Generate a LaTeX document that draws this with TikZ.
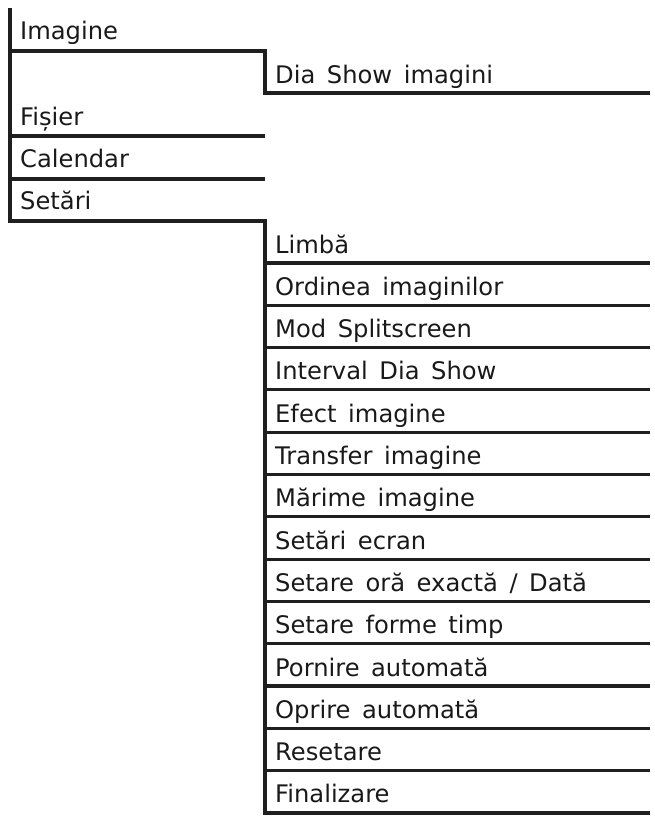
\documentclass[tikz,border=0pt]{standalone}
\usepackage{fontspec}
\setmainfont[WordSpace=1.5]{DejaVu Sans}
\begin{document}
\begin{tikzpicture}[x=1pt,y=-1pt,
  menuline/.style={draw=black!88, line width=3.1pt, line join=miter},
  lbl/.style={anchor=base west, inner sep=0pt, text=black!90, font=\fontsize{24.2}{24}\selectfont}]
\useasboundingbox (0,0) rectangle (654,817);
% left column labels
\node[lbl] (imagine) at (20,39) {Imagine};
\node[lbl] (dia) at (275,83) {Dia Show imagini};
\node[lbl] (fisier) at (20,125) {Fișier};
\node[lbl] (calendar) at (20,167) {Calendar};
\node[lbl] (setari) at (20,209) {Setări};
% left column lines
\coordinate (ltop) at (10,8);
\coordinate (lbot) at (10,221);
\coordinate (split) at (265,221);
\coordinate (rbot) at (265,813);
\coordinate (rend) at (650,813);
\draw[menuline] (ltop) -- (lbot) -- (split) -- (rbot) -- (rend);
\coordinate (i1) at (10,51);
\coordinate (i2) at (265,51);
\coordinate (i3) at (265,93);
\coordinate (i4) at (650,93);
\draw[menuline] (i1) -- (i2) -- (i3) -- (i4);
\coordinate (f1) at (10,136);
\coordinate (f2) at (265,136);
\draw[menuline] (f1) -- (f2);
\coordinate (c1) at (10,179);
\coordinate (c2) at (265,179);
\draw[menuline] (c1) -- (c2);
% right column
\foreach \t [count=\i from 0] in {Limbă,Ordinea imaginilor,Mod Splitscreen,Interval Dia Show,Efect imagine,Transfer imagine,Mărime imagine,Setări ecran,Setare oră exactă / Dată,Setare forme timp,Pornire automată,Oprire automată,Resetare,Finalizare}{
  \pgfmathsetmacro{\yy}{263+42.3*\i}
  \node[lbl] (r\i) at (275,\yy-10) {\t};
  \coordinate (ra\i) at (265,\yy);
  \coordinate (rb\i) at (650,\yy);
  \draw[menuline] (ra\i) -- (rb\i);
}
\end{tikzpicture}
\end{document}
